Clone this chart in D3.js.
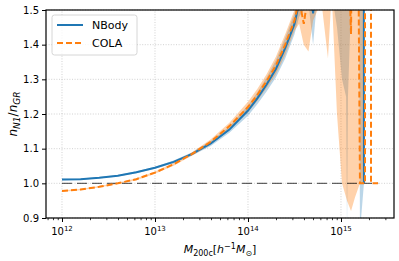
<!DOCTYPE html>
<html>
<head>
<meta charset="utf-8">
<script src="https://cdn.jsdelivr.net/npm/d3@7"></script>
<style>
  body { margin: 0; background: #fff; }
  svg { display: block; font-family: "DejaVu Sans", sans-serif; }
</style>
</head>
<body>
<div id="chart"></div>
<script>
// log10 of halo mass, ratio and band edges
const nbodyLogM = [12.0, 12.2, 12.4, 12.6, 12.8, 13.0, 13.2, 13.4, 13.6, 13.8, 14.0, 14.1, 14.2, 14.3, 14.4, 14.5,
                   14.55, 14.6, 14.65, 14.7, 14.75, 14.8, 14.85, 14.9, 14.957, 15.011, 15.055, 15.065, 15.075, 15.118,
                   15.161, 15.194, 15.204, 15.247];
const nbodyVal = [1.011, 1.012, 1.016, 1.022, 1.032, 1.045, 1.062, 1.085, 1.115, 1.155, 1.21, 1.245, 1.285, 1.33, 1.39, 1.46,
                  1.52, 1.56, 1.6, 1.49, 1.62, 1.7, 1.75, 1.8, 1.9, 2.1, 2.2, 2.3, 2.4, 2.5,
                  2.8, 3.0, 20, 1.0];
const nbodyLo = [1.009, 1.010, 1.014, 1.020, 1.029, 1.042, 1.058, 1.080, 1.108, 1.146, 1.195, 1.228, 1.265, 1.305, 1.36, 1.43,
                 1.48, 1.5, 1.52, 1.40, 1.55, 1.58, 1.55, 1.55, 1.45, 1.3, 1.25, 0.86, 1.25, 1.6,
                 1.6, 1.6, 0.86, 1.0];
const nbodyHi = [1.013, 1.014, 1.018, 1.024, 1.035, 1.048, 1.066, 1.09, 1.122, 1.164, 1.225, 1.262, 1.305, 1.355, 1.42, 1.49,
                 1.56, 1.62, 1.68, 1.58, 1.7, 1.8, 1.9, 2.0, 2.5, 3.0, 3.0, 3.0, 3.0, 3.0,
                 3.0, 3.0, 30, 1.0];

const colaLogM = [12.0, 12.2, 12.4, 12.6, 12.8, 13.0, 13.2, 13.4, 13.6, 13.8, 14.0, 14.1, 14.2, 14.3, 14.4, 14.5,
                  14.55, 14.6, 14.65, 14.7, 14.75, 14.8, 14.86, 14.9, 14.957, 15.011, 15.065, 15.108, 15.151, 15.204,
                  15.258, 15.290, 15.323, 15.398];
const colaVal = [0.978, 0.982, 0.99, 1.0, 1.012, 1.031, 1.055, 1.085, 1.12, 1.165, 1.22, 1.255, 1.295, 1.34, 1.40, 1.47,
                 1.53, 1.46, 1.55, 1.6, 1.65, 1.7, 1.75, 1.8, 1.9, 2.0, 1.8, 1.43, 3.0, 1.0,
                 1.0, 30, 1.0, 1.0];
const colaLo = [0.976, 0.980, 0.988, 0.998, 1.009, 1.028, 1.051, 1.080, 1.113, 1.155, 1.205, 1.238, 1.275, 1.315, 1.37, 1.44,
                1.46, 1.40, 1.38, 1.47, 1.5, 1.5, 1.36, 1.55, 1.2, 1.0, 0.95, 0.92, 0.96, 1.0,
                1.0, 1.0, 1.0, 1.0];
const colaHi = [0.980, 0.984, 0.992, 1.002, 1.015, 1.034, 1.059, 1.09, 1.127, 1.175, 1.235, 1.272, 1.315, 1.365, 1.43, 1.5,
                1.6, 1.55, 1.7, 1.8, 1.9, 2.0, 2.1, 2.2, 3.0, 3.0, 3.0, 3.0, 4.0, 3.0,
                1.0, 1.0, 1.0, 1.0];

const refLogM = [12.0, 15.4];
const yTicks = [0.9, 1.0, 1.1, 1.2, 1.3, 1.4, 1.5];
const xMajorExp = [12, 13, 14, 15];

const width = 399, height = 261;
const margin = { top: 10, right: 5, bottom: 43, left: 46 };

const svg = d3.select("#chart").append("svg")
    .attr("width", width)
    .attr("height", height);

const x = d3.scaleLog()
    .domain([Math.pow(10, 11.828), Math.pow(10, 15.570)])
    .range([margin.left, width - margin.right]);
const y = d3.scaleLinear()
    .domain([0.9, 1.5])
    .range([height - margin.bottom, margin.top]);

const x0 = margin.left, x1 = width - margin.right;
const y0 = height - margin.bottom, y1 = margin.top;

svg.append("clipPath").attr("id", "clip")
  .append("rect").attr("x", x0).attr("y", y1).attr("width", x1 - x0).attr("height", y0 - y1);

// grid
const grid = svg.append("g");
grid.selectAll(".gx").data(xMajorExp).join("line")
    .attr("x1", d => x(Math.pow(10, d))).attr("x2", d => x(Math.pow(10, d)))
    .attr("y1", y0).attr("y2", y1)
    .attr("stroke", "#b0b0b0").attr("stroke-width", 0.8).attr("stroke-dasharray", "1,1.6").attr("opacity", 0.7);
grid.selectAll(".gy").data(yTicks).join("line")
    .attr("x1", x0).attr("x2", x1)
    .attr("y1", d => y(d)).attr("y2", d => y(d))
    .attr("stroke", "#b0b0b0").attr("stroke-width", 0.8).attr("stroke-dasharray", "1,1.6").attr("opacity", 0.7);

const plot = svg.append("g").attr("clip-path", "url(#clip)");

function rows(logM, val, lo, hi) {
  return logM.map((m, i) => ({ m: Math.pow(10, m), v: val[i], lo: lo[i], hi: hi[i] }));
}
const nbody = rows(nbodyLogM, nbodyVal, nbodyLo, nbodyHi);
const cola = rows(colaLogM, colaVal, colaLo, colaHi);

const area = d3.area().x(d => x(d.m)).y0(d => y(d.lo)).y1(d => y(d.hi));
const line = d3.line().x(d => x(d.m)).y(d => y(d.v));

plot.append("path").datum(nbody).attr("d", area)
    .attr("fill", "#1f77b4").attr("fill-opacity", 0.3);
plot.append("path").datum(cola).attr("d", area)
    .attr("fill", "#ff7f0e").attr("fill-opacity", 0.35);

// reference line at unity
plot.append("line")
    .attr("x1", x(Math.pow(10, refLogM[0]))).attr("x2", x(Math.pow(10, refLogM[1])))
    .attr("y1", y(1.0)).attr("y2", y(1.0))
    .attr("stroke", "#000").attr("stroke-opacity", 0.6).attr("stroke-width", 1.4)
    .attr("stroke-dasharray", "10,5");

plot.append("path").datum(nbody).attr("d", line)
    .attr("fill", "none").attr("stroke", "#1f77b4").attr("stroke-width", 2);
plot.append("path").datum(cola).attr("d", line)
    .attr("fill", "none").attr("stroke", "#ff7f0e").attr("stroke-width", 2)
    .attr("stroke-dasharray", "6,3");

// x axis
const xMinor = [];
for (let e = 11; e <= 15; e++) for (let k = 2; k <= 9; k++) {
  const v = k * Math.pow(10, e);
  if (v > x.domain()[0] && v < x.domain()[1]) xMinor.push(v);
}
svg.append("g").attr("transform", `translate(0,${y0})`)
    .call(d3.axisBottom(x).tickValues(xMinor).tickSize(2.2).tickFormat(""))
    .call(g => g.select(".domain").remove())
    .selectAll("line").attr("stroke", "#000").attr("stroke-width", 0.8);
svg.append("g").attr("transform", `translate(0,${y0})`)
    .call(d3.axisBottom(x).tickValues(xMajorExp.map(e => Math.pow(10, e))).tickSize(4).tickFormat(""))
    .call(g => g.select(".domain").remove())
    .selectAll("line").attr("stroke", "#000").attr("stroke-width", 1);

const xl = svg.append("g").selectAll("text").data(xMajorExp).join("text")
    .attr("x", d => x(Math.pow(10, d)))
    .attr("y", y0 + 17)
    .attr("text-anchor", "middle")
    .attr("font-size", 10)
    .attr("fill", "#000");
xl.append("tspan").text("10");
xl.append("tspan").attr("dy", -4).attr("font-size", 7).text(d => d);

// y axis
svg.append("g").attr("transform", `translate(${x0},0)`)
    .call(d3.axisLeft(y).tickValues(yTicks).tickSize(4).tickPadding(3).tickFormat(d3.format(".1f")))
    .call(g => g.select(".domain").remove())
    .call(g => g.selectAll("text").attr("font-size", 10).attr("fill", "#000").attr("font-family", "DejaVu Sans"))
    .selectAll("line").attr("stroke", "#000");

// frame
svg.append("rect").attr("x", x0).attr("y", y1).attr("width", x1 - x0).attr("height", y0 - y1)
    .attr("fill", "none").attr("stroke", "#000").attr("stroke-width", 1.2);

// axis labels
const xlab = svg.append("text")
    .attr("x", (x0 + x1) / 2).attr("y", 253)
    .attr("text-anchor", "middle")
    .attr("font-size", 11)
    .attr("fill", "#000");
xlab.append("tspan").attr("font-style", "italic").text("M");
xlab.append("tspan").attr("font-size", 8).attr("dy", 2.5).text("200c");
xlab.append("tspan").attr("dy", -2.5).text("[");
xlab.append("tspan").attr("font-style", "italic").text("h");
xlab.append("tspan").attr("font-size", 8).attr("dy", -4).text("−1");
xlab.append("tspan").attr("dy", 4).attr("font-style", "italic").text("M");
xlab.append("tspan").attr("font-size", 8).attr("dy", 2.5).text("⊙");
xlab.append("tspan").attr("dy", -2.5).text("]");

const ylab = svg.append("text")
    .attr("transform", `translate(17,${(y0 + y1) / 2}) rotate(-90)`)
    .attr("text-anchor", "middle")
    .attr("font-size", 12)
    .attr("fill", "#000");
ylab.append("tspan").attr("font-style", "italic").text("n");
ylab.append("tspan").attr("font-size", 9).attr("dy", 2.5).attr("font-style", "italic").text("N1");
ylab.append("tspan").attr("dy", -2.5).text("/");
ylab.append("tspan").attr("font-style", "italic").text("n");
ylab.append("tspan").attr("font-size", 9).attr("dy", 2.5).attr("font-style", "italic").text("GR");

// legend
const leg = svg.append("g").attr("transform", "translate(52,15)");
leg.append("rect").attr("width", 85).attr("height", 40).attr("rx", 2.5)
    .attr("fill", "#fff").attr("fill-opacity", 0.8).attr("stroke", "#cccccc").attr("stroke-width", 0.8);
const items = [
  { name: "NBody", color: "#1f77b4", dash: null },
  { name: "COLA", color: "#ff7f0e", dash: "6,3" }
];
items.forEach((it, i) => {
  const yy = 10 + i * 18;
  leg.append("line").attr("x1", 5).attr("x2", 31).attr("y1", yy).attr("y2", yy)
      .attr("stroke", it.color).attr("stroke-width", 2)
      .attr("stroke-dasharray", it.dash);
  leg.append("text").attr("x", 40).attr("y", yy + 4)
      .attr("font-size", 11).attr("fill", "#000").text(it.name);
});
</script>
</body>
</html>
